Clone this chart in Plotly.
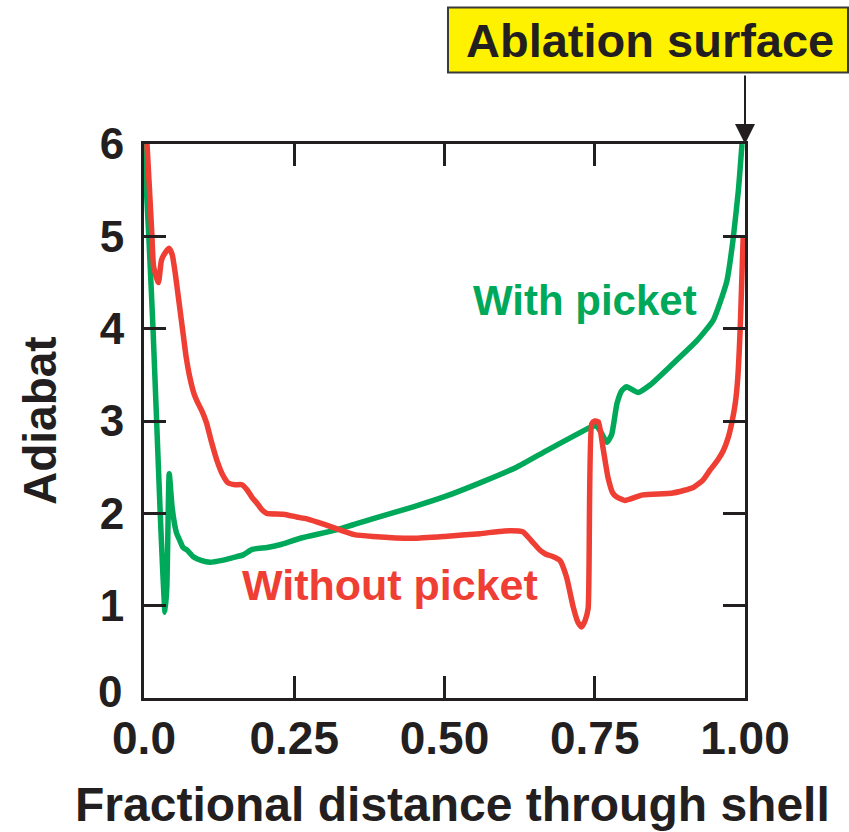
import plotly.graph_objects as go

# Adiabat profiles across the shell
x_with = [0.0, 0.008, 0.015, 0.021, 0.027, 0.031, 0.035, 0.038, 0.042, 0.047,
          0.054, 0.060, 0.065, 0.072, 0.082, 0.095, 0.110, 0.130, 0.148, 0.165,
          0.180, 0.205, 0.226, 0.26, 0.32, 0.38, 0.448, 0.50, 0.559, 0.62,
          0.67, 0.71, 0.742, 0.752, 0.762, 0.770, 0.778, 0.787, 0.795, 0.803,
          0.822, 0.842, 0.88, 0.92, 0.947, 0.962, 0.970, 0.980, 0.989, 0.995]
y_with = [6.0, 5.0, 4.0, 3.0, 2.0, 1.4, 0.93, 1.2, 2.43, 2.05,
          1.79, 1.70, 1.63, 1.60, 1.53, 1.49, 1.47, 1.49, 1.52, 1.55,
          1.61, 1.63, 1.66, 1.73, 1.82, 1.94, 2.07, 2.18, 2.33, 2.50,
          2.68, 2.82, 2.93, 2.95, 2.86, 2.77, 2.85, 3.19, 3.33, 3.37,
          3.31, 3.39, 3.62, 3.87, 4.09, 4.35, 4.52, 4.96, 5.5, 6.0]

x_without = [0.005, 0.010, 0.013, 0.016, 0.024, 0.029, 0.036, 0.042, 0.047, 0.052,
             0.058, 0.065, 0.070, 0.076, 0.083, 0.090, 0.097, 0.104, 0.112, 0.121,
             0.130, 0.140, 0.152, 0.163, 0.172, 0.180, 0.188, 0.196, 0.204, 0.232,
             0.254, 0.271, 0.30, 0.326, 0.35, 0.381, 0.448, 0.50, 0.559, 0.60,
             0.63, 0.645, 0.659, 0.668, 0.681, 0.692, 0.703, 0.714, 0.722, 0.728,
             0.734, 0.739, 0.745, 0.750, 0.756, 0.764, 0.772, 0.780, 0.786, 0.80,
             0.83, 0.88, 0.914, 0.93, 0.942, 0.955, 0.964, 0.972, 0.978, 0.984,
             0.988, 0.992, 0.995, 0.997]
y_without = [6.0, 5.4, 5.03, 4.67, 4.5, 4.74, 4.83, 4.87, 4.8, 4.6,
             4.3, 3.95, 3.7, 3.48, 3.3, 3.19, 3.1, 2.98, 2.78, 2.58,
             2.43, 2.33, 2.31, 2.31, 2.25, 2.17, 2.11, 2.04, 2.0, 1.99,
             1.96, 1.94, 1.88, 1.82, 1.77, 1.75, 1.73, 1.75, 1.78, 1.81,
             1.80, 1.70, 1.60, 1.56, 1.53, 1.49, 1.31, 0.99, 0.82, 0.77,
             0.84, 0.97, 2.97, 3.0, 2.99, 2.7, 2.39, 2.22, 2.18, 2.14,
             2.2, 2.22, 2.28, 2.36, 2.47, 2.58, 2.68, 2.82, 2.98, 3.2,
             3.47, 4.0, 4.6, 5.0]

x_tickvals = [0.0, 0.25, 0.5, 0.75, 1.0]
x_ticktext = ["0.0", "0.25", "0.50", "0.75", "1.00"]
y_tickvals = [0, 1, 2, 3, 4, 5, 6]
# the zero label sits a little higher, drawn separately below
y_ticktext = ["", "1", "2", "3", "4", "5", "6"]

GREEN = "#00a85a"
RED = "#ef3e33"
INK = "#231f20"
FONT = "Liberation Sans, Arial, sans-serif"

fig = go.Figure()
fig.add_trace(go.Scatter(x=x_with, y=y_with, mode="lines",
                         line=dict(color=GREEN, width=5.5, shape="spline", smoothing=0.5),
                         name="With picket"))
fig.add_trace(go.Scatter(x=x_without, y=y_without, mode="lines",
                         line=dict(color=RED, width=5.5, shape="spline", smoothing=0.5),
                         name="Without picket"))

axis_common = dict(
    showline=True, linecolor=INK, linewidth=3, mirror="ticks",
    ticks="inside", ticklen=22, tickwidth=3, tickcolor=INK,
    showgrid=False, zeroline=False,
)

fig.update_xaxes(range=[0, 1], tickvals=x_tickvals, ticktext=x_ticktext,
                 tickfont=dict(family=FONT, size=46, color=INK, weight=700),
                 ticklabelstandoff=-2, **axis_common)
fig.update_yaxes(range=[0, 6], tickvals=y_tickvals, ticktext=y_ticktext,
                 tickfont=dict(family=FONT, size=44, color=INK, weight=700),
                 ticklabelstandoff=8, **axis_common)

fig.add_annotation(xref="paper", yref="y", x=-0.033, y=y_tickvals[0],
                   text=str(y_tickvals[0]), showarrow=False,
                   xanchor="right", yanchor="middle", yshift=7,
                   font=dict(family=FONT, size=44, color=INK, weight=700))

# Yellow callout box for the ablation surface
fig.add_shape(type="rect", xref="paper", yref="paper",
              x0=0.5058, x1=1.1714, y0=1.129, y1=1.2462,
              fillcolor="#fff200", line=dict(color="#3a3a3a", width=2))

fig.add_annotation(xref="paper", yref="paper", x=0.842, y=1.1866,
                   text="Ablation surface", showarrow=False,
                   xanchor="center", yanchor="middle",
                   font=dict(family=FONT, size=47, color=INK, weight=700))

# Arrow pointing at the ablation surface
fig.add_annotation(x=1.0, y=6.0, xref="x", yref="y", text="",
                   showarrow=True, ax=0, ay=-70, arrowhead=2, arrowsize=2,
                   arrowwidth=2, arrowcolor=INK, standoff=0)

fig.add_annotation(x=0.734, y=4.31, xref="x", yref="y", text="With picket",
                   showarrow=False, xanchor="center", yanchor="middle",
                   font=dict(family=FONT, size=42, color=GREEN, weight=700))
fig.add_annotation(x=0.409, y=1.22, xref="x", yref="y", text="Without picket",
                   showarrow=False, xanchor="center", yanchor="middle",
                   font=dict(family=FONT, size=43, color=RED, weight=700))

# Axis titles
fig.add_annotation(xref="paper", yref="paper", x=0.514, y=-0.193,
                   text="Fractional distance through shell", showarrow=False,
                   xanchor="center", yanchor="middle",
                   font=dict(family=FONT, size=48, color=INK, weight=700))
fig.add_annotation(xref="paper", yref="paper", x=-0.173, y=0.5,
                   text="Adiabat", showarrow=False, textangle=-90,
                   xanchor="center", yanchor="middle",
                   font=dict(family=FONT, size=46, color=INK, weight=700))

fig.update_layout(
    width=849, height=832,
    margin=dict(l=144, r=104, t=144, b=134),
    paper_bgcolor="white", plot_bgcolor="white",
    showlegend=False,
)

fig.write_html("out.html")
